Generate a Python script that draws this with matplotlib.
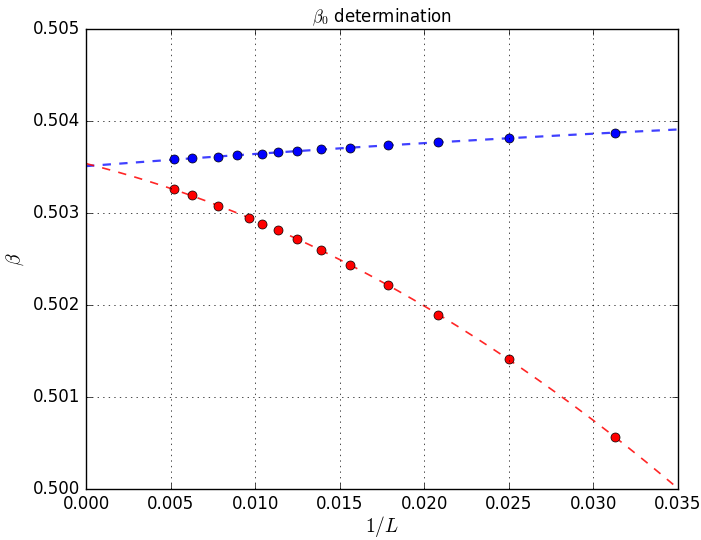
import matplotlib
matplotlib.use("Agg")
import matplotlib.pyplot as plt
import numpy as np

plt.style.use("classic")

# 1/L values and beta estimates
L_blue = [192, 160, 128, 112, 96, 88, 80, 72, 64, 56, 48, 40, 32]
beta_blue = [0.503587, 0.503598, 0.503605, 0.503630, 0.503641, 0.503660, 0.503674,
             0.503692, 0.503703, 0.503736, 0.503775, 0.503818, 0.503870]

L_red = [192, 160, 128, 104, 96, 88, 80, 72, 64, 56, 48, 40, 32]
beta_red = [0.503258, 0.503192, 0.503079, 0.502942, 0.502880, 0.502812, 0.502717,
            0.502601, 0.502435, 0.502217, 0.501891, 0.501413, 0.500565]

x_blue = 1.0 / np.array(L_blue, dtype=float)
x_red = 1.0 / np.array(L_red, dtype=float)

# quadratic fits, extrapolated to 1/L -> 0
p_blue = np.polyfit(x_blue, beta_blue, 2)
p_red = np.polyfit(x_red, beta_red, 2)
xf = np.linspace(0.0, 0.035, 200)

fig = plt.figure(figsize=(7.01, 5.40), dpi=100, facecolor="white")
ax = fig.add_axes([0.1227, 0.0944, 0.8445, 0.8519])

ax.plot(xf, np.polyval(p_blue, xf), "--", color="blue", lw=1.6, alpha=0.75)
ax.plot(xf, np.polyval(p_red, xf), "--", color="red", lw=1.2, alpha=0.85)
ax.plot(x_blue, beta_blue, "o", color="blue", mec="k", mew=0.5, ms=6.5)
ax.plot(x_red, beta_red, "o", color="red", mec="k", mew=0.5, ms=6.5)

ax.set_xlim(0.0, 0.035)
ax.set_ylim(0.500, 0.505)
ax.ticklabel_format(useOffset=False)
ax.set_xticks(np.arange(0, 0.0351, 0.005))
ax.set_yticks(np.arange(0.500, 0.50501, 0.001))
ax.xaxis.set_major_formatter(matplotlib.ticker.FormatStrFormatter("%.3f"))
ax.yaxis.set_major_formatter(matplotlib.ticker.FormatStrFormatter("%.3f"))
ax.grid(True)

ax.set_title(r"$\beta_0$ determination", fontsize=12)
ax.set_xlabel(r"$1/L$", fontsize=14, labelpad=1)
ax.set_ylabel(r"$\beta$", fontsize=14)

fig.savefig("out.png", dpi=100, facecolor="white")
